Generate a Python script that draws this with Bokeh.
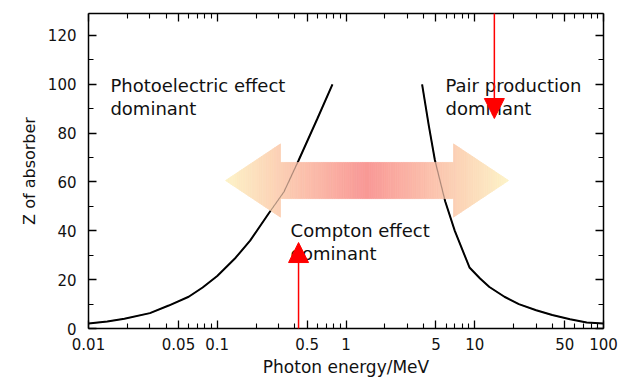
import numpy as np
from bokeh.plotting import figure
from bokeh.models import (LogAxis, LinearAxis, FixedTicker, Label, Arrow, NormalHead, Range1d,
                          CustomLabelingPolicy)
from bokeh.embed import file_html
from bokeh.resources import INLINE

# ---- data ----
photo_energy = [0.01, 0.014, 0.019, 0.03, 0.042, 0.06, 0.077, 0.1, 0.139, 0.18, 0.25, 0.33, 0.428, 0.6, 0.785]
photo_z = [2, 2.9, 4, 6.3, 9.4, 13, 16.8, 21.5, 29, 36, 47, 56, 68.8, 86, 100]
pair_energy = [3.9, 4.4, 4.9, 5.9, 7.0, 9.1, 11, 13, 17, 22, 30, 40, 55, 74, 100]
pair_z = [100, 83, 69, 52, 40, 25, 20.5, 17, 13, 10, 7.5, 5.5, 3.8, 2.5, 2]

x_ticks = [0.01, 0.05, 0.1, 0.5, 1, 5, 10, 50, 100]
x_tick_labels = ["0.01", "0.05", "0.1", "0.5", "1", "5", "10", "50", "100"]
x_minor = [0.02, 0.03, 0.04, 0.06, 0.07, 0.08, 0.09,
           0.2, 0.3, 0.4, 0.6, 0.7, 0.8, 0.9,
           2, 3, 4, 6, 7, 8, 9,
           20, 30, 40, 60, 70, 80, 90]
y_ticks = [0, 20, 40, 60, 80, 100, 120]
y_minor = [10, 30, 50, 70, 90, 110]

region_labels = [("Photoelectric effect", "dominant"),
                 ("Pair production", "dominant"),
                 ("Compton effect", "dominant")]
region_anchor_energy = [0.0148, 5.93, 0.371]
region_anchor_z = [99.5, 99.5, 40.1]

# arrow geometry (data units)
arrow_tip_left_e, arrow_tip_right_e = 0.116, 18.3
arrow_base_left_e, arrow_base_right_e = 0.31, 6.84
arrow_mid_z, arrow_head_half, arrow_shaft_half = 60.6, 15.0, 7.4
tip_rgb = np.array([253, 243, 200])
mid_rgb = np.array([249, 152, 150])

FONT = "DejaVu Sans"

p = figure(x_axis_type="log", x_range=Range1d(0.01, 100), y_range=Range1d(0, 129),
           frame_width=515, frame_height=315,
           min_border_left=88, min_border_right=24, min_border_top=13, min_border_bottom=51,
           output_backend="svg", toolbar_location=None,
           background_fill_color="white", border_fill_color="white")
p.grid.visible = False
p.outline_line_color = None

hide_labels = CustomLabelingPolicy(code="""
try { for (const i of Array.from(indices)) { indices.unset(i) } } catch (e) {}
return indices
""")


def style_axis(ax, show_labels):
    ax.axis_line_color = "black"
    ax.axis_line_width = 1.5
    ax.major_tick_in = 8
    ax.major_tick_out = 0
    ax.minor_tick_in = 5
    ax.minor_tick_out = 0
    ax.major_tick_line_color = "black"
    ax.minor_tick_line_color = "black"
    ax.major_tick_line_width = 1.3
    ax.minor_tick_line_width = 1.1
    if show_labels:
        ax.major_label_text_font = FONT
        ax.major_label_text_font_size = "15px"
        ax.major_label_text_color = "#111111"
        ax.axis_label_text_font = FONT
        ax.axis_label_text_font_style = "normal"
        ax.axis_label_text_color = "#111111"
    else:
        ax.major_label_policy = hide_labels
        ax.major_label_text_font_size = "1px"
        ax.major_label_text_alpha = 0
        ax.major_label_standoff = 0


xb = p.xaxis[0]
xb.ticker = FixedTicker(ticks=x_ticks, minor_ticks=x_minor)
xb.major_label_overrides = {t: s for t, s in zip(x_ticks, x_tick_labels)}
style_axis(xb, True)
xb.major_label_standoff = 9
xb.axis_label = "Photon energy/MeV"
xb.axis_label_text_font_size = "17px"
xb.axis_label_standoff = 4

yl = p.yaxis[0]
yl.ticker = FixedTicker(ticks=y_ticks, minor_ticks=y_minor)
style_axis(yl, True)
yl.major_label_standoff = 12
yl.axis_label = "Z of absorber"
yl.axis_label_text_font_size = "16px"
yl.axis_label_standoff = 6

xt = LogAxis(ticker=FixedTicker(ticks=x_ticks, minor_ticks=x_minor))
style_axis(xt, False)
p.add_layout(xt, "above")
yr = LinearAxis(ticker=FixedTicker(ticks=y_ticks, minor_ticks=y_minor))
style_axis(yr, False)
p.add_layout(yr, "right")

# curves
p.line(photo_energy, photo_z, line_color="black", line_width=2)
p.line(pair_energy, pair_z, line_color="black", line_width=2)

# gradient double arrow (vertical strips in log-x space)
lt, lb = np.log10(arrow_tip_left_e), np.log10(arrow_base_left_e)
rb, rt = np.log10(arrow_base_right_e), np.log10(arrow_tip_right_e)
lc, span = (lt + rt) / 2, (rt - lt) / 2

xs, ys, cols = [], [], []
for seg, (a, b, n) in enumerate([(lt, lb, 30), (lb, rb, 80), (rb, rt, 30)]):
    edges = np.linspace(a, b, n + 1)
    for x0, x1 in zip(edges[:-1], edges[1:]):
        if seg == 0:
            h0 = arrow_head_half * (x0 - lt) / (lb - lt)
            h1 = arrow_head_half * (x1 - lt) / (lb - lt)
        elif seg == 1:
            h0 = h1 = arrow_shaft_half
        else:
            h0 = arrow_head_half * (rt - x0) / (rt - rb)
            h1 = arrow_head_half * (rt - x1) / (rt - rb)
        xs.append([10 ** x0, 10 ** x1, 10 ** x1, 10 ** x0])
        ys.append([arrow_mid_z + h0, arrow_mid_z + h1, arrow_mid_z - h1, arrow_mid_z - h0])
        t = abs((x0 + x1) / 2 - lc) / span
        c = mid_rgb + t * (tip_rgb - mid_rgb)
        cols.append("#%02x%02x%02x" % tuple(int(round(v)) for v in c))

p.patches(xs, ys, fill_color=cols, line_color=cols, line_width=0.8)

# faint curves through the arrow
p.line(photo_energy, photo_z, line_color="black", line_width=1.2, line_alpha=0.3)
p.line(pair_energy, pair_z, line_color="black", line_width=1.2, line_alpha=0.3)

# region labels
for (l1, l2), ex, ez in zip(region_labels, region_anchor_energy, region_anchor_z):
    for k, txt in enumerate((l1, l2)):
        p.add_layout(Label(x=ex, y=ez, y_offset=-23 * k, text=txt, text_font=FONT,
                           text_font_size="18px", text_color="#111111",
                           text_baseline="middle", text_align="left"))

# red pointer arrows
p.add_layout(Arrow(x_start=14.2, y_start=140, x_end=14.2, y_end=86,
                   line_color="red", line_width=1.5,
                   end=NormalHead(size=20, fill_color="red", line_color="red")))
p.add_layout(Arrow(x_start=0.428, y_start=-26, x_end=0.428, y_end=35.2,
                   line_color="red", line_width=1.5,
                   end=NormalHead(size=20, fill_color="red", line_color="red")))

open("out.html", "w").write(file_html(p, INLINE))
